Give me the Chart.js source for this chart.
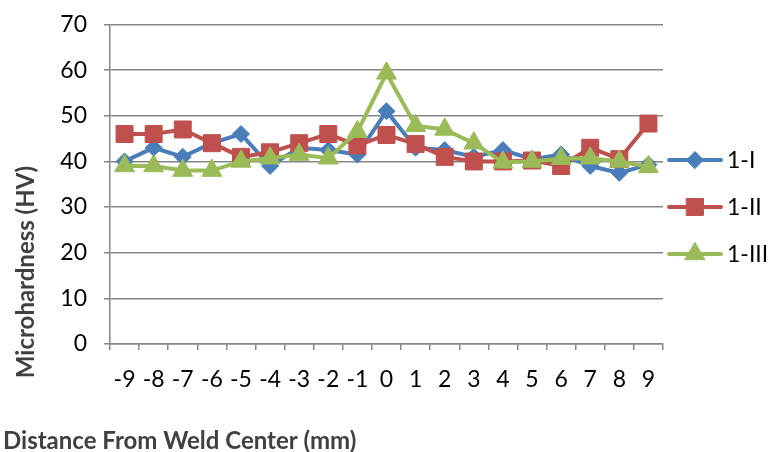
<!DOCTYPE html>
<html>
<head>
<meta charset="utf-8">
<script src="https://cdn.jsdelivr.net/npm/chart.js@4/dist/chart.umd.min.js"></script>
<style>
  html, body { margin: 0; padding: 0; background: #fff; }
  #wrap { width: 768px; height: 452px; }
</style>
</head>
<body>
<div id="wrap"><canvas id="c" width="768" height="452"></canvas></div>
<script>
// Data
const distances = ['-9', '-8', '-7', '-6', '-5', '-4', '-3', '-2', '-1', '0', '1', '2', '3', '4', '5', '6', '7', '8', '9'];
const series1I   = [40, 43, 41, 44, 46, 39, 43, 42.5, 41.5, 51, 43, 42.5, 41, 42.5, 40.5, 41.5, 39, 37.5, 39.3];
const series1II  = [46, 46, 47, 44, 41, 42, 44, 46, 43.5, 45.8, 43.8, 41, 40, 40, 40.2, 39, 43, 40.5, 48.3];
const series1III = [39, 39, 38, 38, 40, 40.7, 41.5, 40.7, 46.5, 59.3, 47.8, 47, 44, 39.8, 40, 40.6, 40.7, 40, 38.8];
const yTicks = [0, 10, 20, 30, 40, 50, 60, 70];

const BLUE = '#4A7EBB';
const RED = '#C0504D';
const GREEN = '#9BBB59';
const FONT = 'Lato, "Open Sans", sans-serif';
const PLOT_TOP = 24.5;

// Draws the axis titles and the line+marker legend on the right
const extrasPlugin = {
    id: 'extras',
    afterLayout(chart) {
        // the y scale keeps extra room above the top label; pull the plot top up to match
        const area = chart.chartArea;
        const y = chart.scales.y;
        if (!y || typeof y.configure !== 'function' || area.top <= PLOT_TOP) return;
        y.top = PLOT_TOP;
        y.height = y.bottom - PLOT_TOP;
        y.configure();
        area.top = PLOT_TOP;
        area.height = area.bottom - PLOT_TOP;
    },
    afterDraw(chart) {
        const ctx = chart.ctx;
        ctx.save();
        // Axis titles
        ctx.fillStyle = '#404040';
        ctx.font = 'bold 24px ' + FONT;
        ctx.textAlign = 'left';
        ctx.textBaseline = 'alphabetic';
        ctx.fillText('Distance From Weld Center (mm)', 3, 449);

        ctx.translate(34, 272);
        ctx.rotate(-Math.PI / 2);
        ctx.textAlign = 'center';
        ctx.fillText('Microhardness (HV)', 0, 0);
        ctx.restore();

        // Legend
        const rows = [160, 207, 254];
        chart.data.datasets.forEach(function(ds, i) {
            const y = rows[i];
            ctx.save();
            ctx.strokeStyle = ds.borderColor;
            ctx.lineWidth = 4;
            ctx.lineCap = 'round';
            ctx.beginPath();
            ctx.moveTo(669, y);
            ctx.lineTo(721, y);
            ctx.stroke();
            ctx.fillStyle = ds.pointBackgroundColor;
            ctx.strokeStyle = ds.pointBorderColor;
            ctx.lineWidth = 1;
            Chart.helpers.drawPoint(ctx, {
                pointStyle: ds.pointStyle,
                radius: ds.pointRadius,
                rotation: 0,
                borderWidth: 1
            }, 695, y);
            ctx.fillStyle = '#000';
            ctx.font = '23px ' + FONT;
            ctx.textAlign = 'left';
            ctx.textBaseline = 'middle';
            ctx.fillText(ds.label, 727, y + 1);
            ctx.restore();
        });
    }
};

function makeDataset(label, data, color, style, radius, order) {
    return {
        label: label,
        data: data,
        borderColor: color,
        backgroundColor: color,
        pointBackgroundColor: color,
        pointBorderColor: color,
        pointBorderWidth: 1,
        pointStyle: style,
        pointRadius: radius,
        pointHoverRadius: radius,
        borderWidth: 4,
        tension: 0,
        fill: false,
        order: order
    };
}

new Chart(document.getElementById('c'), {
    type: 'line',
    data: {
        labels: distances,
        datasets: [
            makeDataset('1-I', series1I, BLUE, 'rectRot', 8.5, 3),
            makeDataset('1-II', series1II, RED, 'rect', 12, 2),
            makeDataset('1-III', series1III, GREEN, 'triangle', 11.5, 1)
        ]
    },
    options: {
        responsive: false,
        animation: false,
        devicePixelRatio: 1,
        layout: {
            autoPadding: false,
            padding: { top: 17.5, right: 105, bottom: 0, left: 0 }
        },
        plugins: {
            legend: { display: false },
            tooltip: { enabled: false }
        },
        scales: {
            x: {
                offset: true,
                grid: {
                    offset: true,
                    drawOnChartArea: false,
                    drawTicks: true,
                    tickLength: 6,
                    color: '#868686',
                    lineWidth: 1.5
                },
                border: { color: '#868686', width: 1.5 },
                ticks: {
                    color: '#000',
                    font: { family: FONT, size: 23 },
                    padding: 16,
                    maxRotation: 0,
                    autoSkip: false
                },
                afterFit: function(scale) { scale.height = 108; }
            },
            y: {
                min: 0,
                max: 70,
                afterBuildTicks: function(scale) {
                    scale.ticks = yTicks.map(function(v) { return { value: v }; });
                },
                grid: {
                    color: '#868686',
                    lineWidth: 1.5,
                    tickLength: 6
                },
                border: { color: '#868686', width: 1.5 },
                ticks: {
                    color: '#000',
                    font: { family: FONT, size: 23 },
                    padding: 17
                },
                afterFit: function(scale) { scale.width = 110; }
            }
        }
    },
    plugins: [extrasPlugin]
});
</script>
</body>
</html>
